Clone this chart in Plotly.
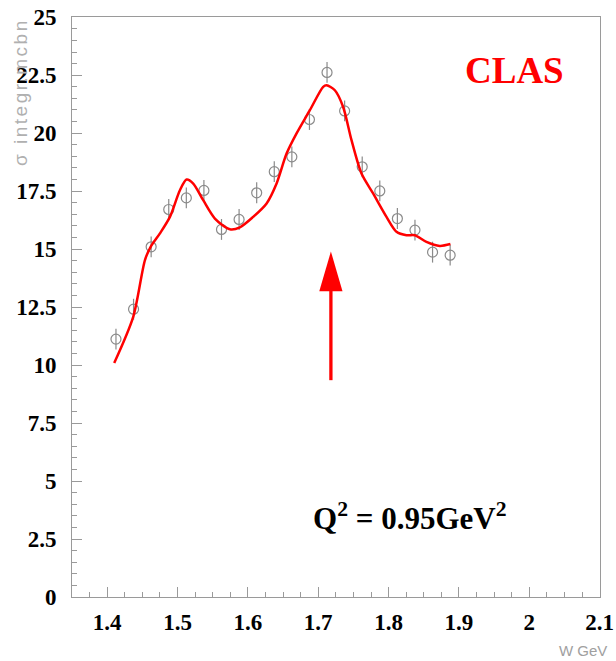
import plotly.graph_objects as go

# Data points (W in GeV, sigma in mcbn)
w_points = [1.4125, 1.4375, 1.4625, 1.4875, 1.5125, 1.5375, 1.5625, 1.5875, 1.6125, 1.6375,
            1.6625, 1.6875, 1.7125, 1.7375, 1.7625, 1.7875, 1.8125, 1.8375, 1.8625, 1.8875]
sigma_points = [11.12, 12.41, 15.10, 16.71, 17.21, 17.53, 15.85, 16.28, 17.43, 18.34,
                18.98, 20.59, 22.62, 20.96, 18.55, 17.51, 16.32, 15.82, 14.87, 14.74]
sigma_err = [0.45] * 20

# Fit curve
w_curve = [1.410, 1.437, 1.4537, 1.4618, 1.475, 1.4892, 1.5034, 1.5129, 1.5223, 1.5365,
           1.5531, 1.5744, 1.5886, 1.6075, 1.6266, 1.6408, 1.655, 1.6692, 1.6881, 1.707,
           1.7118, 1.7236, 1.7354, 1.7473, 1.7615, 1.778, 1.797, 1.8112, 1.8254, 1.8372,
           1.8538, 1.8727, 1.8879]
sigma_curve = [10.09, 12.08, 14.53, 15.10, 15.68, 16.39, 17.54, 18.00, 17.83, 17.11,
               16.32, 15.86, 15.94, 16.39, 16.97, 17.83, 19.12, 19.99, 20.99, 22.00,
               22.07, 21.85, 21.13, 19.70, 18.26, 17.40, 16.39, 15.75, 15.60, 15.60,
               15.31, 15.14, 15.22]

# Arrow (data coordinates)
arrow_x = 1.718
arrow_tail = 9.35
arrow_tip = 14.9
arrow_head_len = 1.72
arrow_head_halfwidth = 0.0165

x_range = [1.35, 2.1005]
y_range = [0, 25.01]

fig = go.Figure()

fig.add_trace(go.Scatter(
    x=w_points, y=sigma_points, mode="markers",
    marker=dict(symbol="circle-open", size=10, color="#8a8a8a", line=dict(width=1.2, color="#8a8a8a")),
    error_y=dict(type="data", array=sigma_err, color="#8a8a8a", thickness=1.2, width=0),
    showlegend=False,
))

fig.add_trace(go.Scatter(
    x=w_curve, y=sigma_curve, mode="lines",
    line=dict(color="#ff0000", width=2.5, shape="spline", smoothing=0.8),
    showlegend=False,
))

base = arrow_tip - arrow_head_len
fig.add_shape(type="line", xref="x", yref="y", x0=arrow_x, x1=arrow_x, y0=arrow_tail, y1=base + 0.1,
              line=dict(color="#ff0000", width=3.3))
fig.add_shape(type="path", xref="x", yref="y",
              path=f"M {arrow_x - arrow_head_halfwidth},{base} L {arrow_x + arrow_head_halfwidth},{base} L {arrow_x},{arrow_tip} Z",
              fillcolor="#ff0000", line=dict(color="#ff0000", width=0))

SERIF = "Liberation Serif"
axis_color = "#9a9a9a"
tickfont = dict(family=SERIF, size=23, color="black", weight=700)

fig.update_xaxes(
    range=x_range, tickmode="linear", tick0=1.4, dtick=0.1,
    ticks="inside", ticklen=10, tickwidth=1, tickcolor=axis_color,
    showline=True, linecolor=axis_color, linewidth=1, mirror=True,
    showgrid=False, zeroline=False, tickfont=tickfont, automargin=False,
    minor=dict(tickmode="linear", tick0=1.35, dtick=0.025, ticks="inside", ticklen=5, tickcolor=axis_color, showgrid=False),
    ticklabelstandoff=4,
)
fig.update_yaxes(
    range=y_range, tickmode="linear", tick0=0, dtick=2.5,
    ticks="inside", ticklen=10, tickwidth=1, tickcolor=axis_color,
    showline=True, linecolor=axis_color, linewidth=1, mirror=True,
    showgrid=False, zeroline=False, tickfont=tickfont, automargin=False,
    minor=dict(tickmode="linear", tick0=0, dtick=0.5, ticks="inside", ticklen=5, tickcolor=axis_color, showgrid=False),
    ticklabelstandoff=10,
)

fig.add_annotation(text="<b>CLAS</b>", xref="paper", yref="paper", x=(514 - 72) / 528, y=(597 - 70) / 580,
                   xanchor="center", yanchor="middle",
                   showarrow=False, font=dict(family=SERIF, size=37, color="#ff0000"))
fig.add_annotation(text="<b>Q<sup>2</sup> = 0.95GeV<sup>2</sup></b>", xref="paper", yref="paper",
                   x=(410 - 72) / 528, y=(597 - 516) / 580, xanchor="center", yanchor="middle", showarrow=False,
                   font=dict(family=SERIF, size=31, color="black"))
fig.add_annotation(text='<span style="letter-spacing:2.5px">σ integr.mcbn</span>', xref="paper", yref="paper",
                   x=(21 - 72) / 528, y=(597 - 92) / 580,
                   xanchor="center", yanchor="middle",
                   textangle=-90, showarrow=False, font=dict(family="Liberation Sans", size=19, color="#b0b0b0"))
fig.add_annotation(text="W GeV", xref="paper", yref="paper", x=(583 - 72) / 528, y=(597 - 650) / 580,
                   xanchor="center", yanchor="middle",
                   showarrow=False, font=dict(family="Liberation Sans", size=15, color="#a0a0a0"))

fig.update_layout(
    width=616, height=661,
    margin=dict(l=72, r=16, t=17, b=64, autoexpand=False),
    paper_bgcolor="white", plot_bgcolor="white",
)

fig.write_html("out.html")
